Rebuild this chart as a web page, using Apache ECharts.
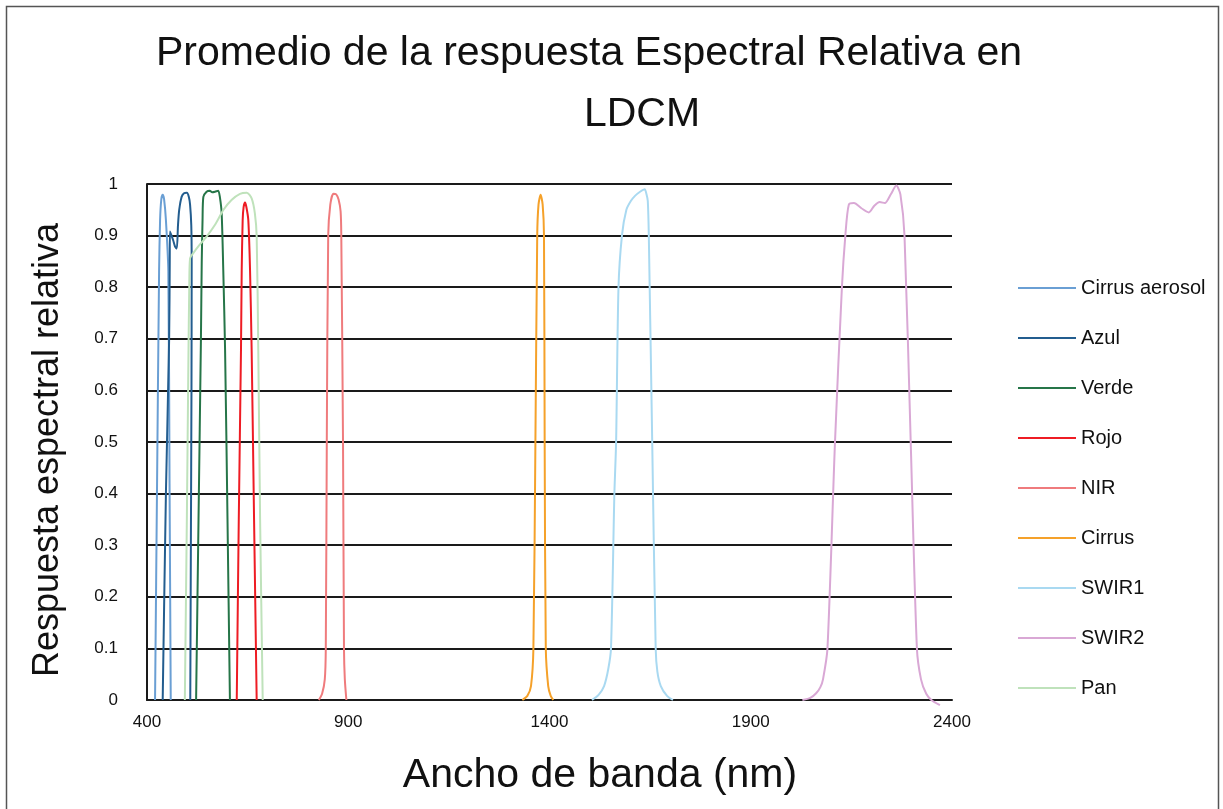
<!DOCTYPE html>
<html>
<head>
<meta charset="utf-8">
<script src="https://cdn.jsdelivr.net/npm/echarts@6/dist/echarts.min.js"></script>
<style>html,body{margin:0;padding:0;background:#fff;}#c{width:1223px;height:809px;}</style>
</head>
<body>
<div id="c"></div>
<script>
const titleLine1 = 'Promedio de la respuesta Espectral Relativa en';
const titleLine2 = 'LDCM';
const xAxisName = 'Ancho de banda (nm)';
const yAxisName = 'Respuesta espectral relativa';
const xTicks = [400, 900, 1400, 1900, 2400];
const bandNames = ['Cirrus aerosol', 'Azul', 'Verde', 'Rojo', 'NIR', 'Cirrus', 'SWIR1', 'SWIR2', 'Pan'];

const cirrusAerosol = [[420,0],[425,0.42],[430,0.83],[432.5,0.93],[435.5,0.97],[439,0.979],[442.5,0.97],[447,0.93],[453,0.83],[456,0.42],[459,0]];
const azul = [[439,0],[447,0.4],[455,0.7],[456.5,0.85],[457,0.908],[461,0.9],[465,0.891],[470,0.878],[474,0.875],[477,0.92],[480,0.95],[486,0.975],[492,0.982],[499,0.983],[504,0.975],[507,0.96],[510,0.92],[511,0.85],[510.5,0.6],[509,0.3],[507.5,0]];
const verde = [[522,0],[528,0.35],[534,0.7],[536,0.85],[538,0.93],[540,0.975],[548,0.985],[556,0.987],[562,0.984],[569,0.985],[577,0.987],[581,0.975],[585.5,0.943],[589.5,0.833],[594,0.678],[600,0.35],[606,0]];
const rojo = [[623,0],[628,0.35],[633.5,0.678],[635.3,0.833],[637.7,0.93],[640,0.955],[643.5,0.964],[647,0.955],[651.7,0.93],[656,0.833],[660,0.678],[666,0.35],[672.5,0]];
const nir = [[827,0],[835,0.012],[841.7,0.04],[844.2,0.1],[846.7,0.5],[850.2,0.9],[855.4,0.96],[863,0.981],[870,0.98],[876,0.97],[881,0.947],[882.7,0.9],[887,0.5],[889.4,0.1],[891.5,0.04],[895.4,0]];
const cirrus = [[1332.6,0],[1345,0.008],[1354,0.027],[1360,0.1],[1365,0.5],[1369.5,0.9],[1372.7,0.96],[1377.9,0.979],[1383,0.96],[1386.3,0.9],[1388,0.5],[1390.8,0.1],[1396.8,0.027],[1403,0.008],[1409.4,0]];
const swir1 = [[1505.6,0],[1522,0.01],[1535.6,0.027],[1546,0.06],[1552.8,0.1],[1561.2,0.4],[1565.5,0.5],[1571.4,0.8],[1580.1,0.901],[1591,0.95],[1602,0.967],[1612.4,0.977],[1625,0.985],[1636.5,0.99],[1641,0.98],[1644.2,0.967],[1646.7,0.901],[1655.2,0.5],[1663.8,0.1],[1668,0.055],[1676.5,0.027],[1692,0.008],[1706.6,0]];
const swir2 = [[2028.4,0],[2048,0.004],[2062.4,0.013],[2073,0.025],[2079.5,0.04],[2090.6,0.1],[2109.3,0.5],[2126.5,0.8],[2135.1,0.901],[2143.6,0.96],[2156.5,0.963],[2175,0.953],[2193.3,0.945],[2207,0.958],[2220.6,0.965],[2233.3,0.963],[2248,0.98],[2261.6,0.997],[2271.8,0.98],[2282,0.9],[2297.4,0.5],[2312.8,0.1],[2323,0.04],[2336,0.012],[2348.8,0],[2370,-0.01]];
const pan = [[494,0],[499,0.35],[503,0.67],[505,0.8],[507,0.856],[515,0.866],[527.5,0.879],[548,0.898],[569,0.921],[590,0.95],[610,0.969],[631,0.981],[648,0.983],[660,0.972],[668,0.943],[672.5,0.898],[676.5,0.678],[681,0.35],[687.5,0]];

const bandData = [cirrusAerosol, azul, verde, rojo, nir, cirrus, swir1, swir2, pan];
const bandColors = ['#6a9fd4', '#235d8f', '#267548', '#ee1c24', '#ef7b7d', '#f5a12a', '#a9d9f1', '#d9a8d5', '#bfe2bb'];

const font = 'Arial, "Liberation Sans", sans-serif';
const chart = echarts.init(document.getElementById('c'), null, {renderer: 'canvas'});

const series = bandNames.map((n, i) => ({
  name: n,
  type: 'line',
  data: bandData[i],
  symbol: 'none',
  smooth: 0.25,
  clip: false,
  lineStyle: {color: bandColors[i], width: 2},
  itemStyle: {color: bandColors[i]},
  z: 3
}));

chart.setOption({
  animation: false,
  backgroundColor: '#fff',
  grid: {left: 147, right: 271, top: 184, bottom: 109, containLabel: false},
  xAxis: {
    type: 'value', min: 400, max: 2400, interval: 500,
    axisLine: {show: true, onZero: false, lineStyle: {color: '#1a1a1a', width: 2}},
    axisTick: {show: false},
    splitLine: {show: false},
    axisLabel: {fontFamily: font, fontSize: 17, color: '#111', margin: 14,
      formatter: v => xTicks.indexOf(v) >= 0 ? String(v) : ''}
  },
  yAxis: {
    type: 'value', min: 0, max: 1, interval: 0.1,
    axisLine: {show: true, lineStyle: {color: '#1a1a1a', width: 2}},
    axisTick: {show: false},
    splitLine: {show: true, lineStyle: {color: '#1a1a1a', width: 2}},
    axisLabel: {fontFamily: font, fontSize: 17, color: '#111', margin: 29,
      formatter: v => String(Math.round(v * 10) / 10)}
  },
  legend: {
    orient: 'vertical', left: 1018, top: 278, padding: 0,
    itemWidth: 58, itemHeight: 2, itemGap: 30,
    icon: 'rect',
    textStyle: {fontFamily: font, fontSize: 20, color: '#111', lineHeight: 20},
    data: bandNames
  },
  graphic: [
    {type: 'rect', silent: true, shape: {x: 6.5, y: 6.5, width: 1212, height: 830},
      style: {fill: 'none', stroke: '#555', lineWidth: 1.5}},
    {type: 'text', silent: true, style: {text: titleLine1, x: 589, y: 54, textAlign: 'center', textVerticalAlign: 'middle',
      font: '41px ' + font, fill: '#111'}},
    {type: 'text', silent: true, style: {text: titleLine2, x: 642, y: 115, textAlign: 'center', textVerticalAlign: 'middle',
      font: '41px ' + font, fill: '#111'}},
    {type: 'text', silent: true, style: {text: xAxisName, x: 600, y: 776, textAlign: 'center', textVerticalAlign: 'middle',
      font: '41px ' + font, fill: '#111'}},
    {type: 'text', silent: true, x: 48, y: 450, rotation: Math.PI / 2,
      style: {text: yAxisName, x: 0, y: 0, textAlign: 'center', textVerticalAlign: 'middle',
      font: '36px ' + font, fill: '#111'}}
  ],
  series: series
});
</script>
</body>
</html>
